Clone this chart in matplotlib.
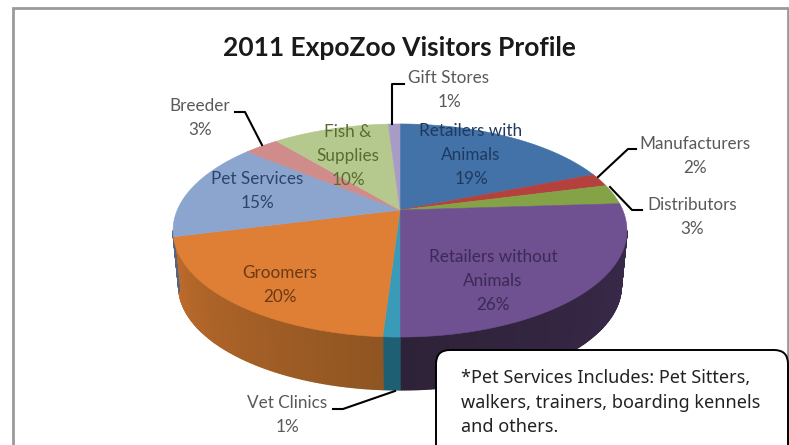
import numpy as np
import matplotlib
matplotlib.use('Agg')
import matplotlib.pyplot as plt
from matplotlib.patches import FancyBboxPatch, Polygon

title = '2011 ExpoZoo Visitors Profile'
names = ['Retailers with\nAnimals', 'Manufacturers', 'Distributors', 'Retailers without\nAnimals',
         'Vet Clinics', 'Groomers', 'Pet Services', 'Breeder', 'Fish &\nSupplies', 'Gift Stores']
values = [19, 2, 3, 26, 1, 20, 15, 3, 10, 1]
note = '*Pet Services Includes: Pet Sitters,\nwalkers, trainers, boarding kennels\nand others.'

colors = ['#4272A8', '#B5413E', '#84A346', '#6F5090', '#3A9BB8',
          '#DE7F35', '#8BA5CF', '#CF8C8A', '#B5C98E', '#A79CC6']
side_left = ['#35597F', '#8A302E', '#647C35', '#3A2A4C', '#2A7085',
             '#BF6C2C', '#6B7F9E', '#9C6A68', '#8A9A6C', '#7F7796']
side_right = ['#2A4766', '#6E2624', '#506330', '#2E2238', '#1F5F73',
              '#8F5522', '#556580', '#7E5553', '#6E7B56', '#655F78']
text_colors = ['#1F3A60', '#595959', '#595959', '#3B2A55', '#595959',
               '#6B3A14', '#2B4468', '#595959', '#5A6B32', '#595959']

# centre of first label line and leader lines, pixels of the picture
label_xy = [(471, 132), (695, 145), (692, 206), (493, 258), (287, 404),
            (280, 274), (257, 180), (200, 107), (348, 133), (449, 79)]
leaders = [[(598, 177), (628, 149), (636, 149)],
           [(610, 187), (632, 210), (642, 210)],
           [(395, 391), (343, 409), (333, 409)],
           [(262, 145), (245, 112), (235, 112)],
           [(392, 124), (392, 84), (404, 84)]]

# tilted disc, far edge comes out smaller
cx, cy = 400, 210
a, b, k = 222.7, 102.6, 0.1925


def rim(t, scale=1.0, drop=0.0):
    u, v = np.sin(t), np.cos(t)
    w = 1 + k * v
    return cx + scale * a * u / w, cy - scale * b * v / w + drop


fig = plt.figure(figsize=(7.89, 4.45), dpi=100)
ax = fig.add_axes([0, 0, 1, 1])
ax.set_xlim(0, 789)
ax.set_ylim(445, 0)
ax.axis('off')

# chart frame
ax.plot([13, 13, 788, 788], [445, 8, 8, 445], color='#9A9A9A', lw=2, solid_joinstyle='miter')

edges = np.cumsum([0] + values) / sum(values) * 2 * np.pi
t_low = np.arcsin(-k)
t_start, t_end = np.pi / 2 - t_low, 3 * np.pi / 2 + t_low

# side wall, short strips so the shade can run along it
for i in range(len(values)):
    t0, t1 = max(edges[i], t_start), min(edges[i + 1], t_end)
    if t1 <= t0:
        continue
    c0 = np.array(matplotlib.colors.to_rgb(side_left[i]))
    c1 = np.array(matplotlib.colors.to_rgb(side_right[i]))
    n = max(int((t1 - t0) * 120), 2)
    ts = np.linspace(t0, t1, n + 1)
    for j in range(n):
        x_top, y_top = rim(ts[j:j + 2])
        x_bot, y_bot = rim(ts[j:j + 2], 0.975, 56)
        f = (j + 0.5) / n
        # groomers get lighter towards the left, the purple wall is nearly flat
        col = c1 * (1 - f) + c0 * f if i == 5 else (c0 * (1 - f) + c1 * f if i == 3 else c1)
        pts = list(zip(x_top, y_top)) + list(zip(x_bot[::-1], y_bot[::-1]))
        ax.add_patch(Polygon(pts, closed=True, fc=col, ec=col, lw=1.0))

# top face
for i in range(len(values)):
    ts = np.linspace(edges[i], edges[i + 1], 120)
    xs, ys = rim(ts)
    pts = [(cx, cy)] + list(zip(xs, ys))
    ax.add_patch(Polygon(pts, closed=True, fc=colors[i], ec=colors[i], lw=0.4))

for line in leaders:
    ax.plot([p[0] for p in line], [p[1] for p in line], color='black', lw=1.5)

for name, val, (x, y), c in zip(names, values, label_xy, text_colors):
    ax.text(x, y - 9, name + '\n' + str(val) + '%', ha='center', va='top',
            fontsize=12.3, family='Lato', color=c, linespacing=1.62)

ax.text(399, 48, title, ha='center', va='center', fontsize=19, family='Lato', fontweight='bold', color='#1A1A1A')

box = FancyBboxPatch((444, 358), 336, 110, boxstyle='round,pad=8,rounding_size=14',
                     fc='white', ec='black', lw=1.4, zorder=5, clip_on=True)
ax.add_patch(box)
ax.text(461, 369, note, ha='left', va='top', fontsize=13, family='Noto Sans', color='#222222',
        linespacing=1.47, zorder=6)

fig.savefig('out.png', dpi=100)
